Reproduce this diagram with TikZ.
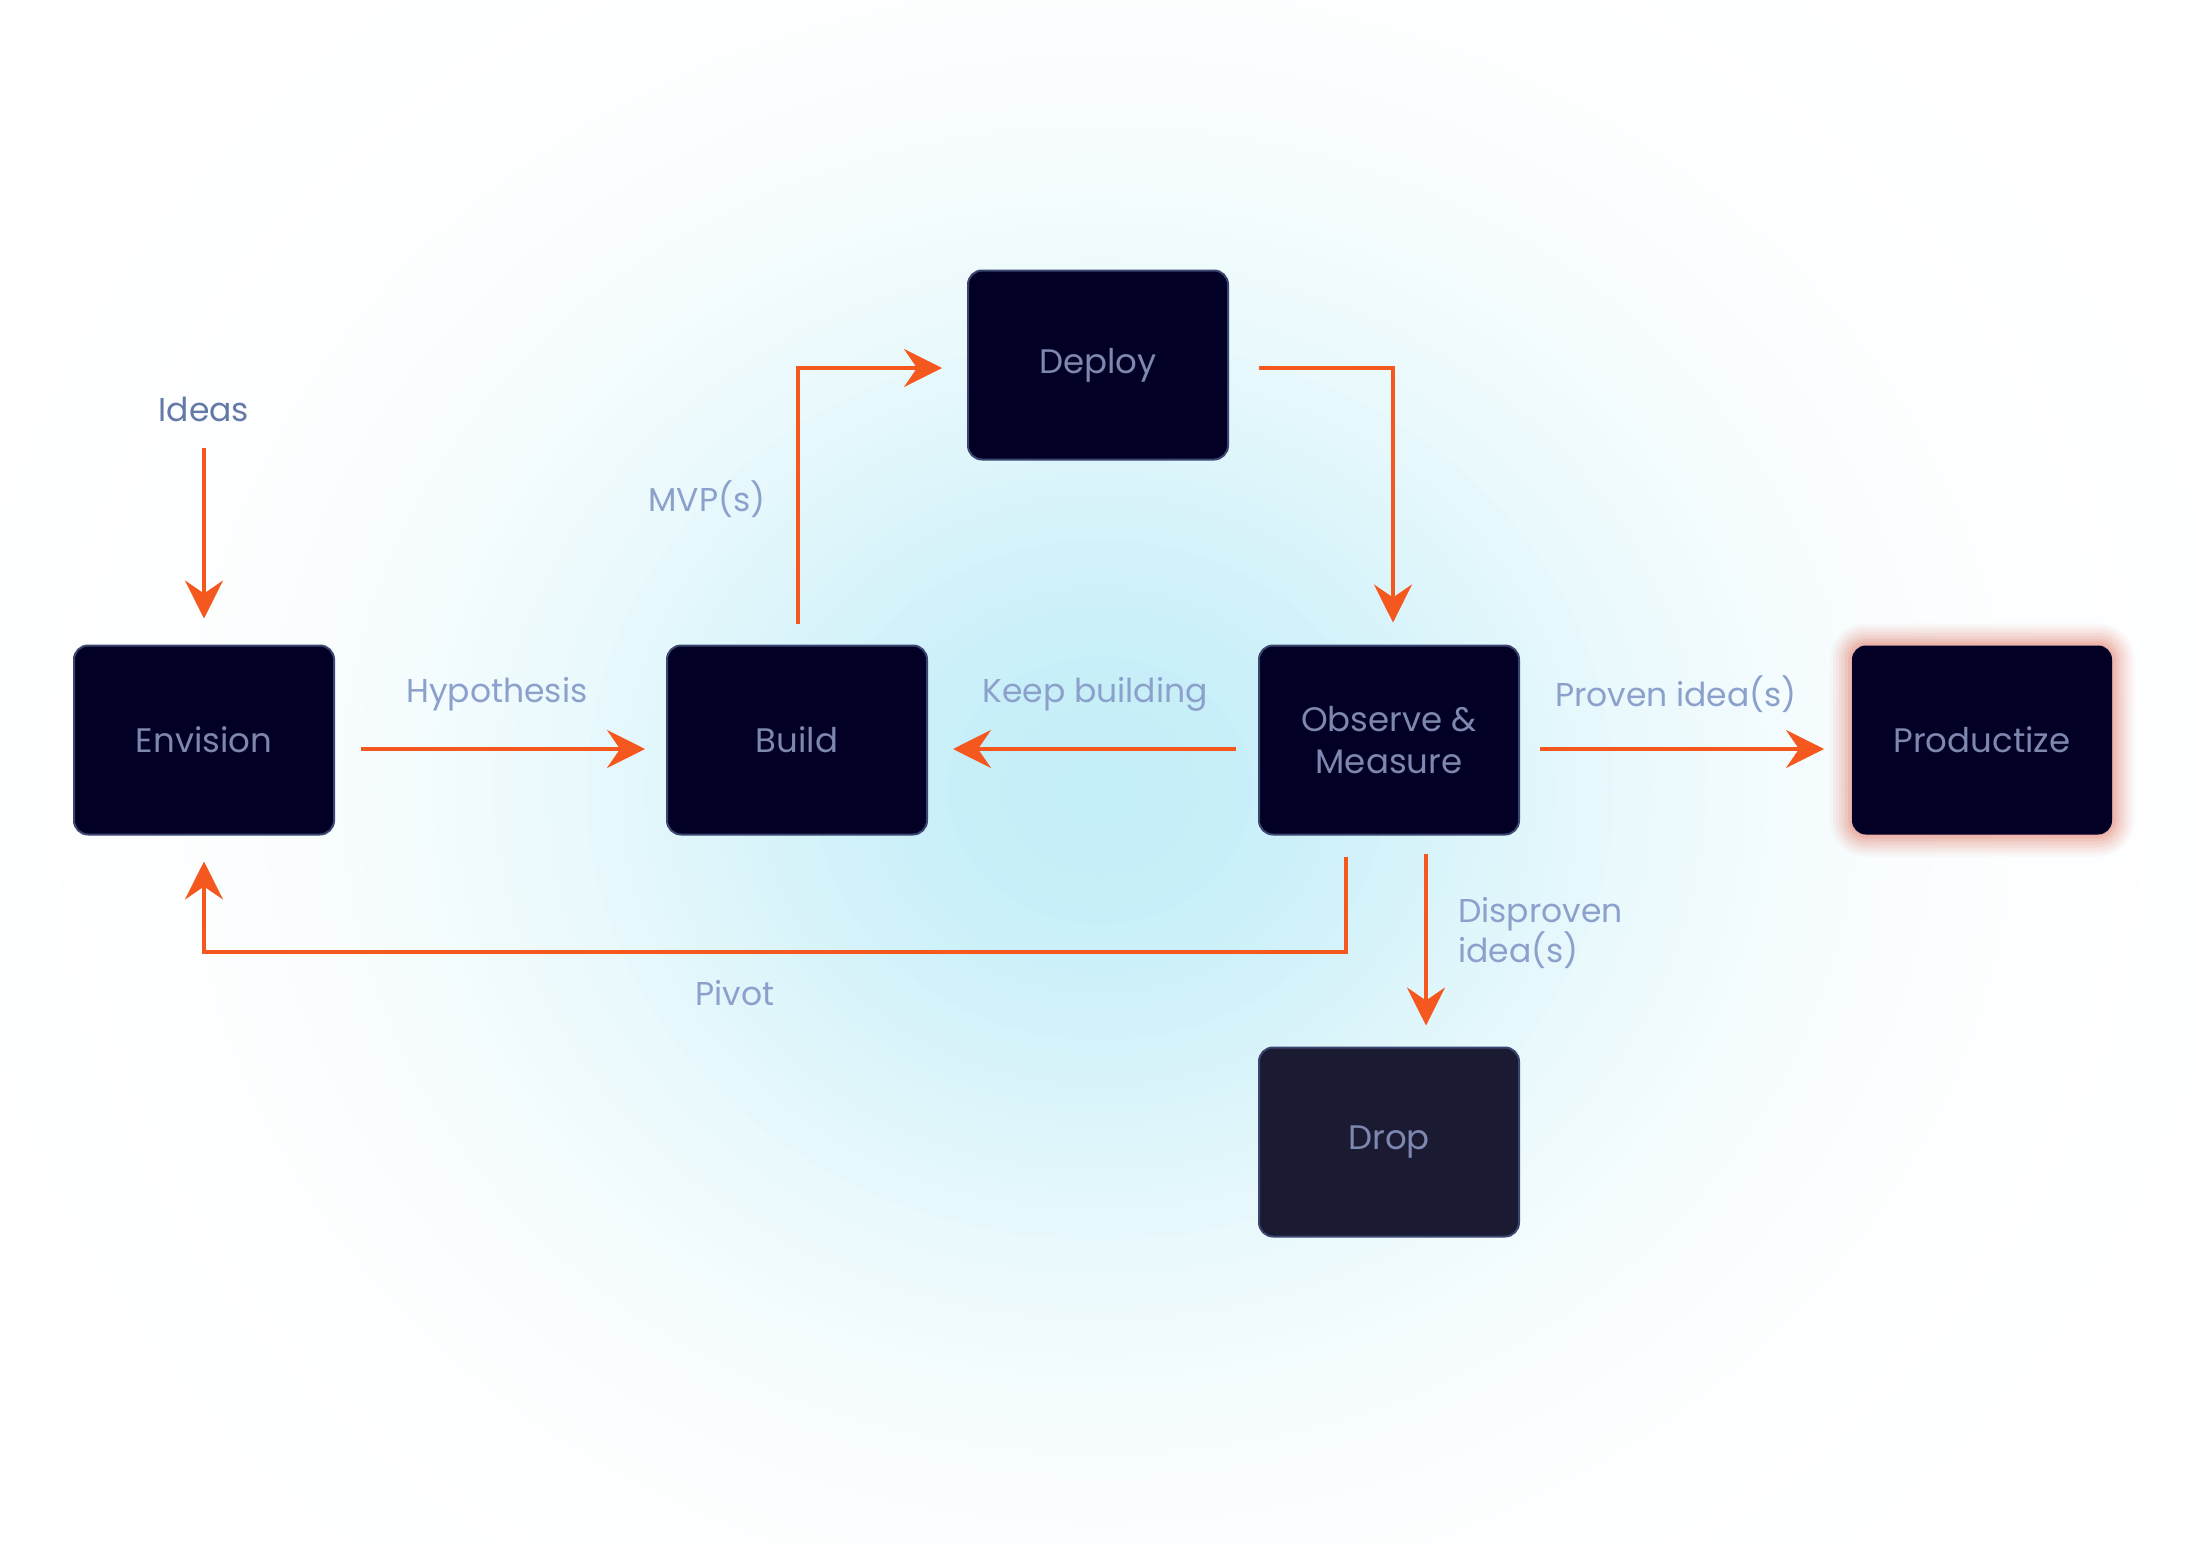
\documentclass[tikz,border=0pt]{standalone}
\usepackage{fontspec}
\setmainfont{Poppins}
\usetikzlibrary{arrows.meta,calc}
\definecolor{bgc}{HTML}{C4EEF8}
\definecolor{boxfill}{HTML}{030026}
\definecolor{dropfill}{HTML}{1B1A33}
\definecolor{boxline}{HTML}{3A4670}
\definecolor{boxtext}{HTML}{7E87AE}
\definecolor{lbltext}{HTML}{8CA0CC}
\definecolor{ideastext}{HTML}{6479A6}
\definecolor{arrowc}{HTML}{F4581F}
\definecolor{glowc}{HTML}{E0604A}
\begin{document}
\begin{tikzpicture}[x=1pt,y=-1pt,
  box/.style={draw=boxline, line width=2pt, fill=boxfill, rounded corners=14pt,
    minimum width=260pt, minimum height=189pt, inner sep=0pt, text=boxtext,
    font=\fontsize{34}{42}\selectfont, align=center},
  lbl/.style={text=lbltext, font=\fontsize{33}{40}\selectfont, inner sep=0pt},
  arr/.style={draw=arrowc, line width=3.5pt,
    -{Stealth[length=38pt,width=38pt,inset=13pt]}}]
\useasboundingbox (0,0) rectangle (2196,1544);
\fill[white] (0,0) rectangle (2196,1544);
% soft background glow (gaussian-like, opaque steps)
\begin{scope}
\clip (0,0) rectangle (2196,1544);
\foreach \i in {0,...,59}{
  \pgfmathsetmacro{\f}{1-\i/60}
  \pgfmathsetmacro{\p}{100*exp(-4.5*\f*\f)}
  \fill[bgc!\p!white] (1100,790) ellipse [x radius={1140*\f}, y radius={1000*\f}];
}
\end{scope}

% glow of Productize
\foreach \d/\o in {22/0.04,19/0.05,16/0.06,13/0.07,10/0.08,7/0.1,4/0.12,1/0.15}{
  \fill[glowc, opacity=\o, rounded corners={14pt+\d pt}]
    (1852-\d,645.5-\d) rectangle (2112+\d,834.5+\d);
}

\node[box] (env) at (204,740) {Envision};
\node[box] (build) at (797,740) {Build};
\node[box] (deploy) at (1098,365) {\raisebox{-3pt}{Deploy}};
\node[box] (obs) at (1389,740) {Observe \&\\Measure};
\node[box, draw=none] (prod) at (1982,740) {Productize};
\node[box, fill=dropfill] (drop) at (1389,1142) {\raisebox{-5pt}{Drop}};

\node[lbl, text=ideastext] (ideas) at (204,409) {Ideas};
\node[lbl] (lhyp) at (497,694) {Hypothesis};
\node[lbl] (lmvp) at (707,499) {MVP(s)};
\node[lbl] (lkeep) at (1095,694) {Keep building};
\node[lbl] (lprov) at (1676,694) {Proven idea(s)};
\node[lbl] (lpiv) at (735,993) {Pivot};
\node[lbl, anchor=west, align=left, font=\fontsize{33}{39}\selectfont] (ldis) at (1458,933) {Disproven\\idea(s)};

\draw[arr] ([yshift=-26pt]ideas.south) -- ([yshift=26pt]env.north);
\draw[arr] ([xshift=26pt,yshift=-9pt]env.east) -- ([xshift=-21pt,yshift=-9pt]build.west);
\draw[arr] ([xshift=1pt,yshift=21pt]build.north) |- ([xshift=-25pt,yshift=-3pt]deploy.west);
\draw[arr] ([xshift=30pt,yshift=-3pt]deploy.east) -| ([xshift=4pt,yshift=22pt]obs.north);
\draw[arr] ([xshift=-22pt,yshift=-9pt]obs.west) -- ([xshift=25pt,yshift=-9pt]build.east);
\draw[arr] ([xshift=20pt,yshift=-9pt]obs.east) -- ([xshift=-27pt,yshift=-9pt]prod.west);
\coordinate (pv) at (1346,952);
\draw[arr] ([xshift=-43pt,yshift=-21pt]obs.south) -- (pv) -| ([yshift=-26pt]env.south);
\draw[arr] ([xshift=37pt,yshift=-18pt]obs.south) -- ([xshift=37pt,yshift=21pt]drop.north);
\end{tikzpicture}
\end{document}
